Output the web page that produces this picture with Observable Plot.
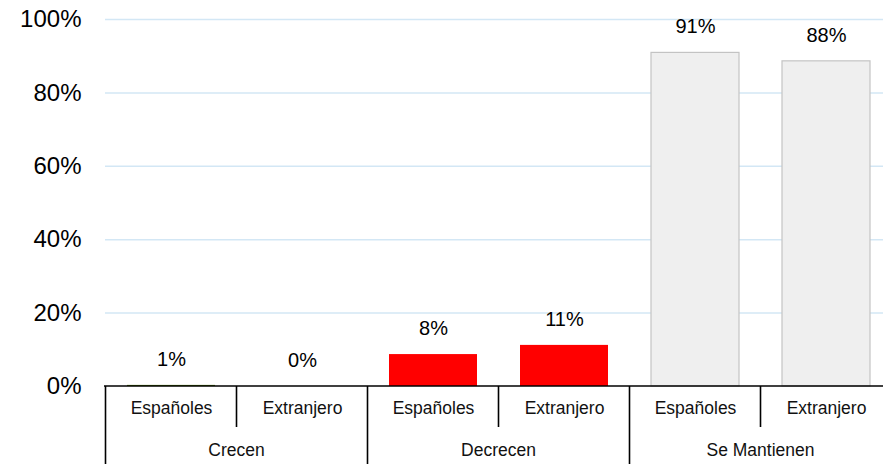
<!DOCTYPE html>
<html>
<head>
<meta charset="utf-8">
<script src="https://cdn.jsdelivr.net/npm/d3@7"></script>
<script src="https://cdn.jsdelivr.net/npm/@observablehq/plot@0.6"></script>
<style>
  html, body { margin: 0; padding: 0; background: #fff; overflow: hidden; }
  svg { font-family: "Liberation Sans", Arial, sans-serif; }
</style>
</head>
<body>
<div id="chart"></div>
<script>
const groups = ["Crecen", "Decrecen", "Se Mantienen"];
const subgroups = ["Españoles", "Extranjero"];
const values = [0.3, 0, 8.7, 11.2, 90.9, 88.6];
const labels = ["1%", "0%", "8%", "11%", "91%", "88%"];
const groupColors = ["#4d7a00", "#ff0000", "#efefef"];
const yTicks = [0, 20, 40, 60, 80, 100];

const data = [];
groups.forEach((g, gi) => subgroups.forEach((s, si) => {
  const i = gi * subgroups.length + si;
  data.push({key: g + "|" + s, group: g, sub: s, value: values[i], label: labels[i], fill: groupColors[gi]});
}));

const W = 883, H = 464;
const pLeft = 105, pRight = 891, pTop = 19, pBottom = 386;

const plot = Plot.plot({
  width: W,
  height: H,
  marginLeft: pLeft,
  marginRight: 0,
  marginTop: pTop,
  marginBottom: H - pBottom,
  style: {fontFamily: '"Liberation Sans", Arial, sans-serif', background: "#fff", overflow: "hidden"},
  x: {type: "band", domain: data.map(d => d.key), range: [pLeft, pRight], paddingInner: 0.33, paddingOuter: 0.165, axis: null},
  y: {domain: [0, 100], range: [pBottom, pTop], axis: null, label: null},
  color: {type: "identity"},
  marks: [
    Plot.gridY(yTicks.filter(t => t > 0), {stroke: "#d3e7f5", strokeOpacity: 1, strokeWidth: 1.5}),
    Plot.axisY(yTicks, {tickFormat: d => d + "%", tickSize: 0, tickPadding: 24, fontSize: 24, fill: "#000", anchor: "left", label: null}),
    Plot.barY(data.filter(d => d.group !== "Se Mantienen"), {x: "key", y: "value", fill: "fill"}),
    Plot.barY(data.filter(d => d.group === "Se Mantienen"), {x: "key", y: "value", fill: "fill", stroke: "#c3c3c3", strokeWidth: 1.2}),
    Plot.text(data, {x: "key", y: "value", text: "label", dy: -26, fontSize: 20, fill: "#000"}),
    Plot.text(data, {x: "key", text: "sub", frameAnchor: "bottom", dy: 27, fontSize: 17.5, fill: "#111"})
  ]
});

document.getElementById("chart").appendChild(plot);

// Category table below the axis, positioned from Plot's own x scale
const xs = plot.scale("x");
const step = xs.step;
const gap = step - xs.bandwidth;
const bStart = k => xs.apply(k) - gap / 2;
const svg = d3.select(plot);
const tg = svg.append("g").attr("stroke", "#000").attr("stroke-width", 1.6);
tg.append("line").attr("x1", pLeft - 1).attr("x2", W).attr("y1", pBottom).attr("y2", pBottom);
data.forEach(d => {
  if (d.sub !== subgroups[0]) {
    const xx = bStart(d.key);
    tg.append("line").attr("x1", xx).attr("x2", xx).attr("y1", pBottom).attr("y2", pBottom + 41);
  }
});
groups.forEach(gr => {
  const xx = bStart(gr + "|" + subgroups[0]);
  tg.append("line").attr("x1", xx).attr("x2", xx).attr("y1", pBottom).attr("y2", H);
});
const lastX = bStart(data[data.length - 1].key) + step;
tg.append("line").attr("x1", lastX).attr("x2", lastX).attr("y1", pBottom).attr("y2", H);
groups.forEach(gr => {
  const x0 = bStart(gr + "|" + subgroups[0]);
  const cx = x0 + step * subgroups.length / 2;
  svg.append("text").attr("x", cx).attr("y", pBottom + 64).attr("dy", "0.32em")
    .attr("text-anchor", "middle").attr("font-size", 17.5).attr("fill", "#111").text(gr);
});
</script>
</body>
</html>
